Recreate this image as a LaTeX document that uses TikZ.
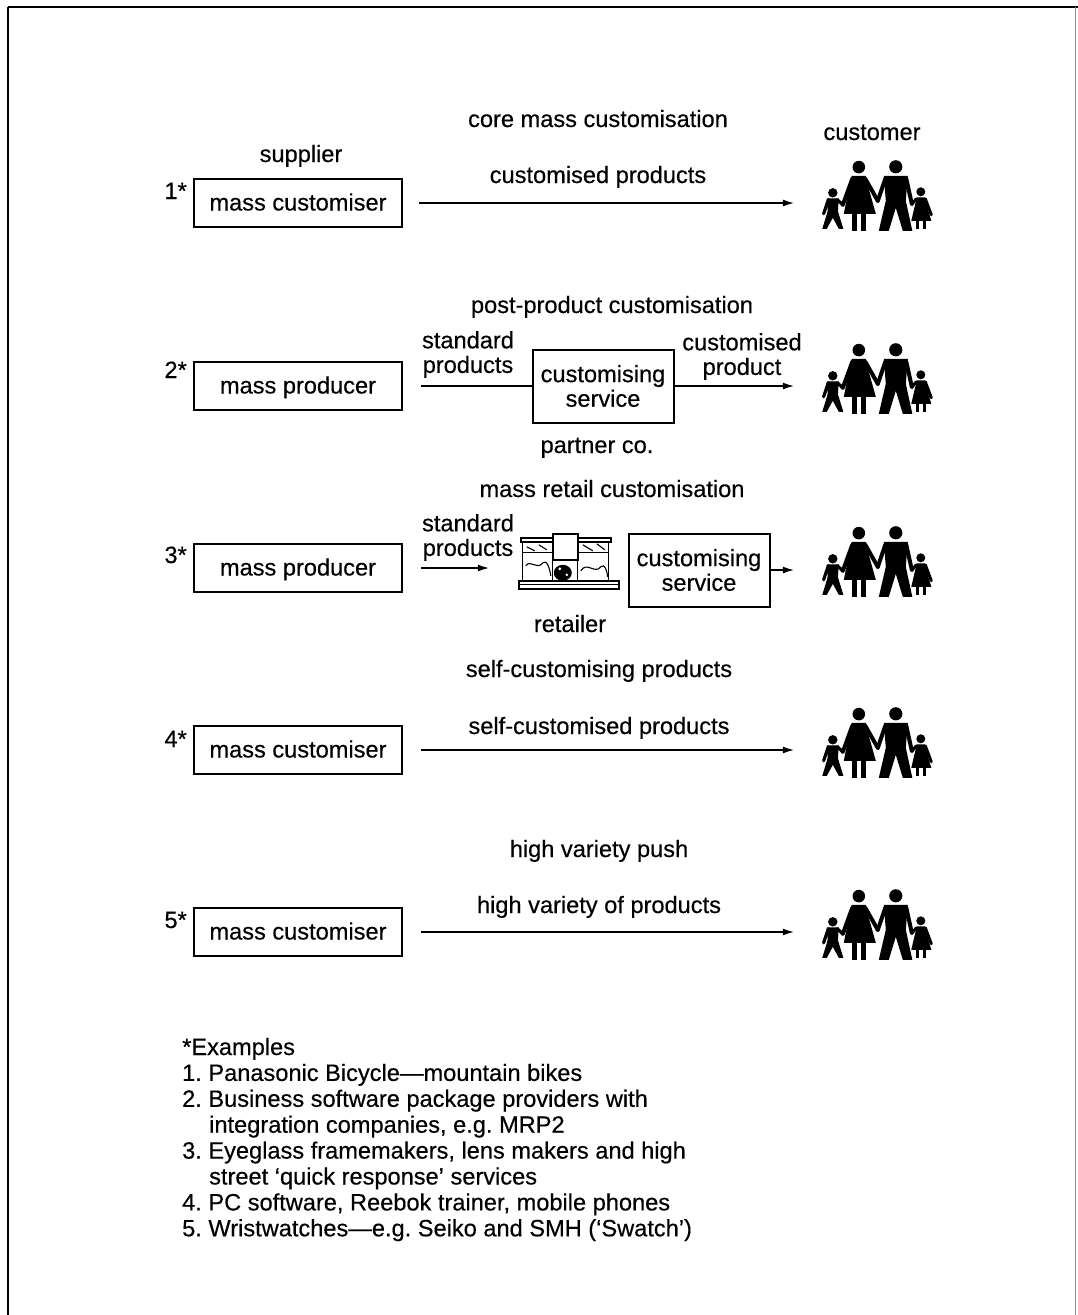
\documentclass[tikz,border=0pt]{standalone}
\usepackage{fontspec}
\setmainfont[FakeBold=0.4]{Liberation Sans}
\usetikzlibrary{arrows.meta}

% family of four figures (local coordinates, y downwards)
\tikzset{
  family/.pic={
    % boy
    \fill (11,32) circle (4.7);
    \fill (5,37.5) -- (17,37.5) -- (16,52) -- (6,52) -- cycle;
    \fill (6,50) -- (16,50) -- (21.5,68) -- (17,68) -- (11,57) -- (5,68) -- (0.5,68) -- cycle;
    \draw[line width=3.2, line cap=round] (6.5,39) -- (1.8,53) (15.5,39) -- (21,44);
    % woman
    \fill (37,6.3) circle (6.3);
    \fill (30,15) -- (44,15) -- (47,28) -- (54,53) -- (22,53) -- (27,28) -- cycle;
    \draw[line width=5] (33,52) -- (33,70) (41.5,52) -- (41.5,70);
    \draw[line width=4, line cap=round] (30.5,18) -- (21,44) (43.5,18) -- (56,40);
    % man
    \fill (74,6) circle (6.6);
    \fill (62,15) -- (86,15) -- (84,40) -- (90.5,70) -- (81,70) -- (74,47) -- (67,70) -- (57,70) -- (64,40) -- cycle;
    \draw[line width=4, line cap=round] (63.5,18) -- (56,40) (84.5,18) -- (90,43);
    % girl
    \fill (99,31) circle (4.5);
    \fill (95,36.5) -- (103,36.5) -- (105,45) -- (109.5,60) -- (89.5,60) -- (93,45) -- cycle;
    \draw[line width=3.2] (95.5,59) -- (95.5,68.5) (102.5,59) -- (102.5,68.5);
    \draw[line width=3, line cap=round] (94.5,38) -- (90,43.5) (103.5,38) -- (109.5,54);
  },
  % shop counter sketch (local coordinates, y downwards)
  shop/.pic={
    \draw[line width=1.4] (4,7) rectangle (94,11);
    \draw[line width=1.2] (6,11) -- (6,50) (92,11) -- (92,50);
    \draw[line width=1.1] (6,22) -- (36,22) (61,22) -- (92,22);
    \draw[line width=1.1] (9,35) .. controls (14,28) and (20,40) .. (26,32)
                               .. controls (30,28) and (33,38) .. (34,45);
    \draw[line width=1.1] (10,16) -- (18,20) (22,14) -- (30,19);
    \draw[line width=1.1] (64,40) .. controls (70,30) and (78,44) .. (84,36)
                                .. controls (88,32) and (90,40) .. (91,46);
    \draw[line width=1.1] (66,14) -- (76,20) (80,13) -- (88,19);
    \draw[line width=1.6, fill=white] (36,3) rectangle (61,29);
    \draw[line width=1.2] (36,29) -- (36,50) (61,29) -- (61,50);
    \fill (46,42) ellipse (9 and 8);
    \fill[white] (43,38) circle (1.6) (50,44) circle (1.4);
    \draw[line width=1.5] (2,50) rectangle (102,58);
    \draw[line width=1.0] (2,54) -- (102,54);
  }
}

\begin{document}
\frenchspacing
\begin{tikzpicture}[x=1pt,y=-1pt,
  txt/.style={font=\fontsize{23.6}{25.8}\selectfont, inner sep=0pt, anchor=base},
  twoline/.style={font=\fontsize{23.6}{24.6}\selectfont, inner sep=0pt, anchor=north, align=center},
  num/.style={font=\fontsize{23.6}{25.8}\selectfont, inner sep=0pt, anchor=base east},
  mbox/.style={draw, line width=2pt, minimum width=208pt, minimum height=48pt,
    inner sep=0pt, text height=17pt, text depth=2pt, font=\fontsize{23.6}{25.8}\selectfont},
  cbox/.style={draw, line width=2pt, minimum width=141pt, minimum height=73pt,
    inner sep=0pt, align=center, font=\fontsize{23.6}{24.6}\selectfont},
  fam/.style={minimum width=113pt, minimum height=70pt, inner sep=0pt},
  shopnode/.style={minimum width=104pt, minimum height=60pt, inner sep=0pt},
  arr/.style={line width=2pt, -{Latex[length=12pt,width=7pt]}},
  ln/.style={line width=2pt}
]
\useasboundingbox (0,0) rectangle (1078,1315);

% frame
\draw[line width=2.6pt] (8,7) -- (1078,7);
\draw[line width=2pt] (8,7) -- (8,1315);
\draw[line width=0.8pt, black!45] (1075,7) -- (1075,1315);

% ---- 1: core mass customisation
\node[txt] (t1) at (598,127) {core mass customisation};
\node[txt] (cust) at (872,140) {customer};
\node[txt] (sup1) at (301,162) {supplier};
\node[num] (n1) at (187,199) {1*};
\node[mbox] (m1) at (298,203) {mass customiser};
\node[txt] (l1) at (598,183) {customised products};
\node[fam] (f1) at (878.5,196) {};
\pic at (f1.north west) {family};
\draw[arr, shorten <=16pt, shorten >=27pt] (m1.east) -- (m1.east -| f1.west);

% ---- 2: post-product customisation
\node[txt] (t2) at (612,313) {post-product customisation};
\node[num] (n2) at (187,378) {2*};
\node[mbox] (m2) at (298,386) {mass producer};
\node[twoline] (s2) at (468,331) {standard\\products};
\node[cbox] (c2) at (603,386) {customising\\service};
\node[twoline] (o2) at (742,333) {customised\\product};
\node[txt] (p2) at (597,453) {partner co.};
\node[fam] (f2) at (878.5,379) {};
\pic at (f2.north west) {family};
\draw[ln, shorten <=18pt] (m2.east) -- (c2.west);
\draw[arr, shorten >=27pt] (c2.east) -- (c2.east -| f2.west);

% ---- 3: mass retail customisation
\node[txt] (t3) at (612,497) {mass retail customisation};
\node[num] (n3) at (187,563) {3*};
\node[mbox] (m3) at (298,568) {mass producer};
\node[twoline] (s3) at (468,514) {standard\\products};
\node[shopnode] (r3) at (569,561) {};
\pic at (r3.north west) {shop};
\node[txt] (ret) at (570,632) {retailer};
\node[cbox] (c3) at (699,570) {customising\\service};
\node[fam] (f3) at (878.5,562) {};
\pic at (f3.north west) {family};
\draw[arr, shorten <=18pt, shorten >=27pt] (m3.east) -- (m3.east -| r3.west);
\draw[arr, shorten >=27pt] (c3.east) -- (c3.east -| f3.west);

% ---- 4: self-customising products
\node[txt] (t4) at (599,677) {self-customising products};
\node[num] (n4) at (187,747) {4*};
\node[mbox] (m4) at (298,750) {mass customiser};
\node[txt] (l4) at (599,734) {self-customised products};
\node[fam] (f4) at (878.5,743) {};
\pic at (f4.north west) {family};
\draw[arr, shorten <=18pt, shorten >=27pt] (m4.east) -- (m4.east -| f4.west);

% ---- 5: high variety push
\node[txt] (t5) at (599,857) {high variety push};
\node[num] (n5) at (187,928) {5*};
\node[mbox] (m5) at (298,932) {mass customiser};
\node[txt] (l5) at (599,913) {high variety of products};
\node[fam] (f5) at (878.5,925) {};
\pic at (f5.north west) {family};
\draw[arr, shorten <=18pt, shorten >=27pt] (m5.east) -- (m5.east -| f5.west);

% ---- examples
\foreach \xx/\k/\line in {
    182/0/{*Examples},
    182/1/{1. Panasonic Bicycle—mountain bikes},
    182/2/{2. Business software package providers with},
    209/3/{integration companies, e.g. MRP2},
    182/4/{3. Eyeglass framemakers, lens makers and high},
    209/5/{street ‘quick response’ services},
    182/6/{4. PC software, Reebok trainer, mobile phones},
    182/7/{5. Wristwatches—e.g. Seiko and SMH (‘Swatch’)}}
  \node[txt, anchor=base west] (ex\k) at (\xx,1055+25.9*\k) {\line};

\end{tikzpicture}
\end{document}
